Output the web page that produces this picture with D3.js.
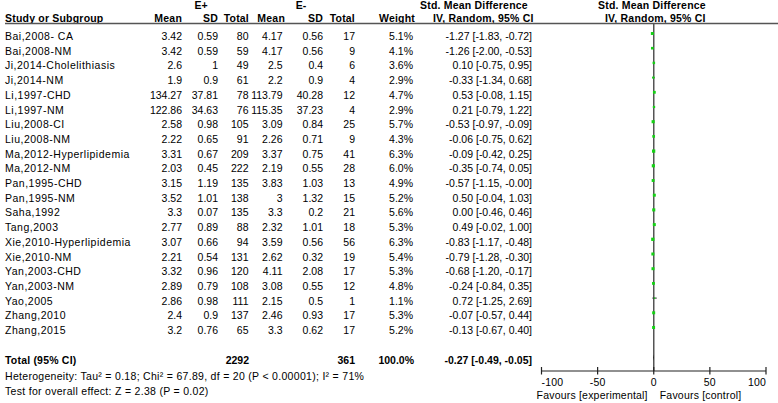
<!DOCTYPE html>
<html>
<head>
<meta charset="utf-8">
<script src="https://cdn.jsdelivr.net/npm/d3@7"></script>
<style>
  html, body { margin: 0; padding: 0; background: #fff; }
  svg { display: block; }
  text { font-family: "Liberation Sans", Arial, sans-serif; font-size: 10.5px; fill: #000; }
  .b { font-weight: bold; }
  .name { letter-spacing: 0.5px; }
  .hdr { letter-spacing: 0.2px; }
  .foot { letter-spacing: 0.3px; }
  .fav { letter-spacing: 0.2px; }
</style>
</head>
<body>
<div id="chart"></div>
<script>
const studies = ["Bai,2008- CA","Bai,2008-NM","Ji,2014-Cholelithiasis","Ji,2014-NM","Li,1997-CHD","Li,1997-NM",
  "Liu,2008-CI","Liu,2008-NM","Ma,2012-Hyperlipidemia","Ma,2012-NM","Pan,1995-CHD","Pan,1995-NM","Saha,1992",
  "Tang,2003","Xie,2010-Hyperlipidemia","Xie,2010-NM","Yan,2003-CHD","Yan,2003-NM","Yao,2005","Zhang,2010","Zhang,2015"];
const meanE  = [3.42,3.42,2.6,1.9,134.27,122.86,2.58,2.22,3.31,2.03,3.15,3.52,3.3,2.77,3.07,2.21,3.32,2.89,2.86,2.4,3.2];
const sdE    = [0.59,0.59,1,0.9,37.81,34.63,0.98,0.65,0.67,0.45,1.19,1.01,0.07,0.89,0.66,0.54,0.96,0.79,0.98,0.9,0.76];
const totalE = [80,59,49,61,78,76,105,91,209,222,135,138,135,88,94,131,120,108,111,137,65];
const meanC  = [4.17,4.17,2.5,2.2,113.79,115.35,3.09,2.26,3.37,2.19,3.83,3,3.3,2.32,3.59,2.62,4.11,3.08,2.15,2.46,3.3];
const sdC    = [0.56,0.56,0.4,0.9,40.28,37.23,0.84,0.71,0.75,0.55,1.03,1.32,0.2,1.01,0.56,0.32,2.08,0.55,0.5,0.93,0.62];
const totalC = [17,9,6,4,12,4,25,9,41,28,13,15,21,18,56,19,17,12,1,17,17];
const weight = [5.1,4.1,3.6,2.9,4.7,2.9,5.7,4.3,6.3,6.0,4.9,5.2,5.6,5.3,6.3,5.4,5.3,4.8,1.1,5.3,5.2];
const smd    = [-1.27,-1.26,0.10,-0.33,0.53,0.21,-0.53,-0.06,-0.09,-0.35,-0.57,0.50,0.00,0.49,-0.83,-0.79,-0.68,-0.24,0.72,-0.07,-0.13];
const ciLow  = [-1.83,-2.00,-0.75,-1.34,-0.08,-0.79,-0.97,-0.75,-0.42,-0.74,-1.15,-0.04,-0.46,-0.02,-1.17,-1.28,-1.20,-0.84,-1.25,-0.57,-0.67];
const ciHigh = [-0.72,-0.53,0.95,0.68,1.15,1.22,-0.09,0.62,0.25,0.05,-0.004,1.03,0.46,1.00,-0.48,-0.30,-0.17,0.35,2.69,0.44,0.40];
const total = { label: "Total (95% CI)", nE: 2292, nC: 361, weight: 100.0, smd: -0.27, lo: -0.49, hi: -0.05 };
const axisTicks = [-100, -50, 0, 50, 100];
const footer = ["Heterogeneity: Tau\u00b2 = 0.18; Chi\u00b2 = 67.89, df = 20 (P < 0.00001); I\u00b2 = 71%",
                "Test for overall effect: Z = 2.38 (P = 0.02)"];

const W = 778, H = 403;
const svg = d3.select("#chart").append("svg").attr("width", W).attr("height", H);

const rowY = d3.scaleLinear().domain([0, studies.length - 1]).range([40, 334]);
const x = d3.scaleLinear().domain([-100, 100]).range([541.5, 766]);

const fmt2 = v => v.toFixed(2);
const ciText = (m, l, h) => `${fmt2(m)} [${fmt2(l)}, ${fmt2(h)}]`;

// headers
svg.append("text").attr("class","b").attr("x",201).attr("y",9).attr("text-anchor","middle").text("E+");
svg.append("text").attr("class","b").attr("x",301).attr("y",9).attr("text-anchor","middle").text("E-");
svg.append("text").attr("class","b hdr").attr("x",420).attr("y",9).text("Std. Mean Difference");
svg.append("text").attr("class","b hdr").attr("x",598).attr("y",9).text("Std. Mean Difference");

const hdrY = 22;
const hdrs = [
  ["Study or Subgroup", 5, "start"], ["Mean", 182, "end"], ["SD", 218, "end"], ["Total", 249, "end"],
  ["Mean", 285, "end"], ["SD", 323, "end"], ["Total", 355, "end"], ["Weight", 415, "end"],
  ["IV, Random, 95% CI", 433, "start"], ["IV, Random, 95% CI", 605, "start"]
];
hdrs.forEach(([t, px, a]) => svg.append("text").attr("class","b hdr").attr("x",px).attr("y",hdrY).attr("text-anchor",a).text(t));

svg.append("line").attr("x1",5).attr("x2",778).attr("y1",23.5).attr("y2",23.5)
  .attr("stroke","#555").attr("stroke-width",1.3);

// rows
const cols = [
  [meanE, 182], [sdE, 218], [totalE, 248.5], [meanC, 282.5], [sdC, 323], [totalC, 355]
];
studies.forEach((s, i) => {
  const y = rowY(i);
  svg.append("text").attr("class","name").attr("x",5).attr("y",y).text(s);
  cols.forEach(([arr, px]) => svg.append("text").attr("x",px).attr("y",y).attr("text-anchor","end").text(String(arr[i])));
  svg.append("text").attr("x",413).attr("y",y).attr("text-anchor","end").text(weight[i].toFixed(1) + "%");
  svg.append("text").attr("x",532).attr("y",y).attr("text-anchor","end").text(ciText(smd[i], ciLow[i], ciHigh[i]));
});

// zero line
svg.append("line").attr("x1",x(0)).attr("x2",x(0)).attr("y1",23.5).attr("y2",371)
  .attr("stroke","#555").attr("stroke-width",1.5);

// CI lines and squares
const g = svg.append("g");
studies.forEach((s, i) => {
  const cy = rowY(i) - 6.5;
  g.append("line").attr("x1",x(ciLow[i])).attr("x2",x(ciHigh[i])).attr("y1",cy).attr("y2",cy)
    .attr("stroke","#333").attr("stroke-width",1);
  const size = Math.sqrt(weight[i]) * 1.3;
  g.append("rect").attr("x",x(smd[i]) - size/2).attr("y",cy - size/2).attr("width",size).attr("height",size)
    .attr("fill","#14d214");
});

// total row
const ty = 364;
svg.append("text").attr("class","b hdr").attr("x",5).attr("y",ty).text(total.label);
svg.append("text").attr("class","b").attr("x",249).attr("y",ty).attr("text-anchor","end").text(total.nE);
svg.append("text").attr("class","b").attr("x",355).attr("y",ty).attr("text-anchor","end").text(total.nC);
svg.append("text").attr("class","b").attr("x",414).attr("y",ty).attr("text-anchor","end").text(total.weight.toFixed(1) + "%");
svg.append("text").attr("class","b").attr("x",532).attr("y",ty).attr("text-anchor","end").text(ciText(total.smd, total.lo, total.hi));
const dy = ty - 6.5;
svg.append("path")
  .attr("d", `M${x(total.lo)},${dy} L${x(total.smd)},${dy-3} L${x(total.hi)},${dy} L${x(total.smd)},${dy+3} Z`)
  .attr("fill","#000");

// footer
svg.append("text").attr("class","foot").attr("x",5).attr("y",380).text(footer[0]);
svg.append("text").attr("class","foot").attr("x",5).attr("y",395).text(footer[1]);

// axis
const axY = 371;
svg.append("line").attr("x1",x(-100)).attr("x2",x(100)).attr("y1",axY).attr("y2",axY)
  .attr("stroke","#222").attr("stroke-width",1.2);
axisTicks.forEach((t, k) => {
  svg.append("line").attr("x1",x(t)).attr("x2",x(t)).attr("y1",axY-4).attr("y2",axY+3.5)
    .attr("stroke","#222").attr("stroke-width",1.2);
  const anchor = k === 0 ? "start" : (k === axisTicks.length - 1 ? "end" : "middle");
  svg.append("text").attr("class","fav").attr("x",x(t)).attr("y",386).attr("text-anchor",anchor).text(String(t));
});
svg.append("text").attr("class","fav").attr("x",x(0) - 6).attr("y",399).attr("text-anchor","end").text("Favours [experimental]");
svg.append("text").attr("class","fav").attr("x",x(0) + 6).attr("y",399).attr("text-anchor","start").text("Favours [control]");
</script>
</body>
</html>
